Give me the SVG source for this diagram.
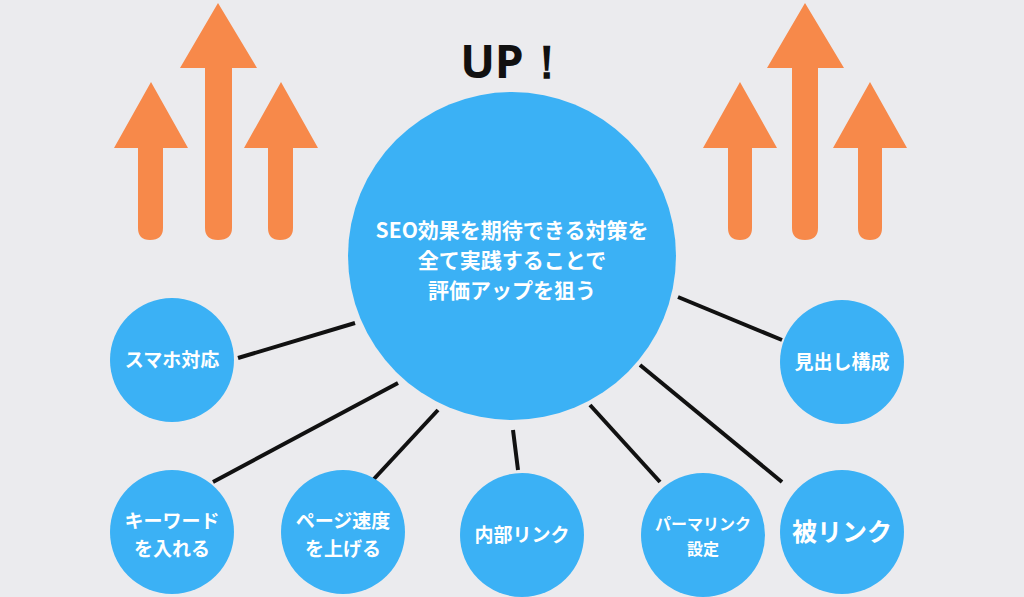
<svg xmlns="http://www.w3.org/2000/svg" width="1024" height="597" viewBox="0 0 1024 597">
<style>
.c{fill:#3bb1f5}
.a{fill:#f7894a}
.t{fill:#fff;font-family:"Noto Sans CJK JP","Noto Sans",sans-serif;font-weight:bold;text-anchor:middle}
.l{stroke:#111;stroke-width:4}
</style>
<rect width="1024" height="597" fill="#ebebee"/>
<g id="arrows">
<path class="a" d="M180,68 L218,3 L257,68 L232,68 L232,228 Q232,240 218,240 Q205,240 205,228 L205,68Z"/>
<path class="a" d="M114,148 L151,82 L188,148 L163,148 L163,228 Q163,240 150,240 Q138,240 138,228 L138,148Z"/>
<path class="a" d="M244,148 L281,82 L318,148 L293,148 L293,228 Q293,240 280,240 Q268,240 268,228 L268,148Z"/>
<path class="a" d="M767,68 L805,3 L844,68 L818,68 L818,228 Q818,240 805,240 Q792,240 792,228 L792,68Z"/>
<path class="a" d="M703,148 L740,82 L777,148 L752,148 L752,228 Q752,240 740,240 Q728,240 728,228 L728,148Z"/>
<path class="a" d="M833,148 L870,82 L907,148 L882,148 L882,228 Q882,240 870,240 Q858,240 858,228 L858,148Z"/>
</g>
<text x="515" y="78" font-family="Noto Sans,sans-serif" font-weight="bold" font-size="46" text-anchor="middle" fill="#111">UP！</text>
<g id="connectors">
<line class="l" x1="355" y1="323" x2="238" y2="358"/>
<line class="l" x1="398" y1="383" x2="213" y2="482"/>
<line class="l" x1="438" y1="410" x2="373" y2="480"/>
<line class="l" x1="513" y1="430" x2="518" y2="470"/>
<line class="l" x1="590" y1="405" x2="660" y2="482"/>
<line class="l" x1="640" y1="365" x2="782" y2="482"/>
<line class="l" x1="678" y1="297" x2="782" y2="340"/>
</g>
<g id="center"><circle class="c" cx="512" cy="256" r="164"/>
<text class="t" font-size="21"><tspan x="512" y="238">SEO効果を期待できる対策を</tspan><tspan x="512" y="268">全て実践することで</tspan><tspan x="512" y="298">評価アップを狙う</tspan></text></g>
<g id="n1"><circle class="c" cx="172" cy="360" r="62"/><text class="t" x="172" y="367" font-size="19">スマホ対応</text></g>
<g id="n2"><circle class="c" cx="842" cy="362" r="62"/><text class="t" x="842" y="369" font-size="19">見出し構成</text></g>
<g id="n3"><circle class="c" cx="172" cy="532" r="62"/><text class="t" font-size="19"><tspan x="172" y="528">キーワード</tspan><tspan x="172" y="556">を入れる</tspan></text></g>
<g id="n4"><circle class="c" cx="343" cy="532" r="62"/><text class="t" font-size="19"><tspan x="343" y="528">ページ速度</tspan><tspan x="343" y="556">を上げる</tspan></text></g>
<g id="n5"><circle class="c" cx="522" cy="535" r="62"/><text class="t" x="522" y="542" font-size="19">内部リンク</text></g>
<g id="n6"><circle class="c" cx="703" cy="535" r="62"/><text class="t" font-size="16"><tspan x="703" y="530">パーマリンク</tspan><tspan x="703" y="555">設定</tspan></text></g>
<g id="n7"><circle class="c" cx="842" cy="532" r="62"/><text class="t" x="842" y="541" font-size="25">被リンク</text></g>
</svg>
